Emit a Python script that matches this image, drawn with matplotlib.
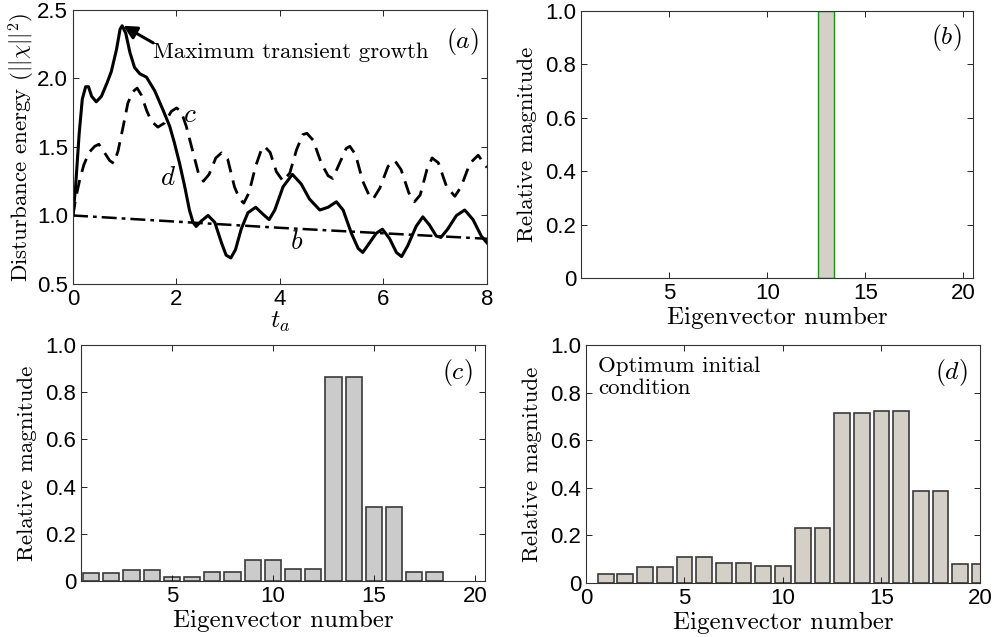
import matplotlib
matplotlib.use('Agg')
import matplotlib.pyplot as plt
import numpy as np

plt.rcParams['mathtext.fontset'] = 'cm'
plt.rcParams['font.family'] = 'Liberation Sans'

# (a) energy curves
t_d = [0, 0.05, 0.12, 0.18, 0.245, 0.30, 0.36, 0.45, 0.55, 0.66, 0.74, 0.84, 0.91, 0.95,
       1.02, 1.10, 1.19, 1.29, 1.42, 1.58, 1.74, 1.87, 1.96, 2.06, 2.16, 2.25, 2.32, 2.38,
       2.48, 2.61, 2.74, 2.87, 2.96, 3.05, 3.14, 3.25, 3.38, 3.53, 3.67, 3.79, 3.90, 4.06,
       4.24, 4.41, 4.57, 4.77, 4.93, 5.09, 5.22, 5.38, 5.51, 5.60, 5.73, 5.86, 5.98, 6.12,
       6.25, 6.35, 6.47, 6.63, 6.76, 6.89, 7.02, 7.11, 7.24, 7.41, 7.57, 7.73, 7.89, 8.0]
e_d = [1.0, 1.21, 1.60, 1.85, 1.94, 1.94, 1.87, 1.83, 1.87, 1.97, 2.05, 2.21, 2.36, 2.385,
       2.33, 2.19, 2.08, 2.035, 2.01, 1.91, 1.77, 1.65, 1.53, 1.38, 1.21, 1.04, 0.95, 0.92,
       0.96, 1.0, 0.95, 0.80, 0.71, 0.69, 0.75, 0.90, 1.02, 1.06, 1.01, 0.97, 1.04, 1.21,
       1.30, 1.23, 1.12, 1.04, 1.06, 1.10, 1.04, 0.87, 0.76, 0.73, 0.80, 0.87, 0.90, 0.83,
       0.73, 0.70, 0.78, 0.92, 0.99, 0.93, 0.85, 0.84, 0.90, 1.0, 1.04, 0.97, 0.85, 0.80]

t_c = [0, 0.05, 0.13, 0.21, 0.31, 0.42, 0.50, 0.59, 0.71, 0.79, 0.87, 0.97, 1.06, 1.16,
       1.24, 1.32, 1.42, 1.51, 1.64, 1.77, 1.90, 2.0, 2.09, 2.19, 2.32, 2.43, 2.52, 2.63,
       2.76, 2.87, 2.99, 3.12, 3.22, 3.30, 3.40, 3.53, 3.64, 3.70, 3.81, 3.93, 4.06, 4.19,
       4.32, 4.44, 4.52, 4.64, 4.80, 4.93, 5.02, 5.15, 5.28, 5.35, 5.46, 5.60, 5.73, 5.80,
       5.93, 6.09, 6.22, 6.34, 6.49, 6.60, 6.71, 6.84, 6.94, 7.06, 7.22, 7.38, 7.50, 7.67,
       7.83, 8.0]
e_c = [1.0, 1.12, 1.26, 1.37, 1.46, 1.505, 1.52, 1.47, 1.40, 1.38, 1.47, 1.65, 1.82, 1.905,
       1.93, 1.88, 1.77, 1.69, 1.645, 1.675, 1.76, 1.785, 1.76, 1.65, 1.46, 1.30, 1.25, 1.30,
       1.42, 1.457, 1.41, 1.21, 1.12, 1.09, 1.165, 1.36, 1.48, 1.505, 1.46, 1.32, 1.25, 1.31,
       1.48, 1.59, 1.60, 1.55, 1.38, 1.29, 1.27, 1.38, 1.49, 1.505, 1.445, 1.25, 1.14, 1.12,
       1.20, 1.36, 1.40, 1.335, 1.165, 1.10, 1.15, 1.335, 1.42, 1.385, 1.21, 1.14, 1.21, 1.38,
       1.44, 1.35]

t_b = [0, 2, 4, 6, 8]
e_b = [1.0, 0.955, 0.91, 0.87, 0.83]

# (b)-(d) eigenvector magnitudes
eig = np.arange(1, 21)
mag_b = [0, 0, 0, 0, 0, 0, 0, 0, 0, 0, 0, 0, 1.0, 0, 0, 0, 0, 0, 0, 0]
mag_c = [0.032, 0.032, 0.045, 0.045, 0.016, 0.016, 0.037, 0.037, 0.089, 0.089,
         0.052, 0.052, 0.864, 0.864, 0.314, 0.314, 0.037, 0.037, 0, 0]
mag_d = [0.038, 0.038, 0.066, 0.066, 0.108, 0.108, 0.084, 0.084, 0.073, 0.073,
         0.229, 0.229, 0.713, 0.713, 0.724, 0.724, 0.385, 0.385, 0.081, 0.081]

mag_ticks = [0, 0.2, 0.4, 0.6, 0.8, 1.0]
mag_labels = ['0', '0.2', '0.4', '0.6', '0.8', '1.0']

fig = plt.figure(figsize=(9.93, 6.37), dpi=100)
ax_a = fig.add_axes([0.0735, 0.5542, 0.4169, 0.4301])
ax_b = fig.add_axes([0.5851, 0.5636, 0.3948, 0.4191])
ax_c = fig.add_axes([0.0816, 0.0879, 0.4068, 0.3705])
ax_d = fig.add_axes([0.5901, 0.0848, 0.3968, 0.3736])

serif = 'cmr10'
tick_fs = 16
lab_fs = 16.5

for ax in (ax_a, ax_b, ax_c, ax_d):
    ax.tick_params(direction='in', top=True, right=True, labelsize=tick_fs, length=4, width=0.6)
    for s in ax.spines.values():
        s.set_linewidth(0.8)
        s.set_color('#333333')

# (a)
ax_a.plot(t_d, e_d, color='black', lw=2.2)
ax_a.plot(t_c, e_c, color='black', lw=2.0, ls=(0, (5, 3)))
ax_a.plot(t_b, e_b, color='black', lw=1.8, ls=(0, (6, 2, 1.5, 2)))
ax_a.set_xlim(0, 8)
ax_a.set_ylim(0.5, 2.5)
ax_a.set_xticks([0, 2, 4, 6, 8])
ax_a.set_yticks([0.5, 1.0, 1.5, 2.0, 2.5])
ax_a.set_yticklabels(['0.5', '1.0', '1.5', '2.0', '2.5'])
ax_a.set_xlabel(r'$t_a$', fontsize=lab_fs + 2, labelpad=0)
ax_a.set_ylabel(r'Disturbance energy $(||\chi||^2)$', fontsize=lab_fs, family=serif, labelpad=0)
ax_a.annotate('', xy=(0.97, 2.385), xytext=(1.55, 2.26),
              arrowprops=dict(arrowstyle='-|>', color='black', lw=2.2,
                              mutation_scale=20, shrinkA=0, shrinkB=0))
ax_a.text(1.55, 2.19, 'Maximum transient growth', fontsize=16.5, family=serif,
          va='center', ha='left')
ax_a.text(2.26, 1.73, r'$c$', fontsize=lab_fs + 3, ha='center', va='center')
ax_a.text(1.84, 1.27, r'$d$', fontsize=lab_fs + 3, ha='center', va='center')
ax_a.text(4.33, 0.81, r'$b$', fontsize=lab_fs + 3, ha='center', va='center')
ax_a.text(0.98, 0.94, r'$(a)$', transform=ax_a.transAxes, fontsize=lab_fs + 2, ha='right', va='top')


def bar_panel(ax, vals, face, edge, lw, xlim):
    edges = [edge if v > 0 else 'none' for v in vals]
    ax.bar(eig, vals, width=0.8, color=face, edgecolor=edges, linewidth=lw)
    ax.set_xlim(*xlim)
    ax.set_ylim(0, 1)
    ax.set_yticks(mag_ticks)
    ax.set_yticklabels(mag_labels)
    ax.set_xlabel('Eigenvector number', fontsize=18, family=serif, labelpad=2)
    ax.set_ylabel('Relative magnitude', fontsize=lab_fs, family=serif, labelpad=6)


bar_panel(ax_b, mag_b, '#d4d0c8', '#1a8f1a', 1.0, (0.5, 20.5))
ax_b.set_xticks([5, 10, 15, 20])
ax_b.text(0.97, 0.96, r'$(b)$', transform=ax_b.transAxes, fontsize=lab_fs + 2, ha='right', va='top')

bar_panel(ax_c, mag_c, '#cbcbcb', '#3a3a3a', 1.2, (0.5, 20.5))
ax_c.set_xticks([5, 10, 15, 20])
ax_c.text(0.97, 0.95, r'$(c)$', transform=ax_c.transAxes, fontsize=lab_fs + 2, ha='right', va='top')

bar_panel(ax_d, mag_d, '#d4d0c8', '#3a3a3a', 1.2, (0, 20))
ax_d.set_xticks([0, 5, 10, 15, 20])
ax_d.text(0.97, 0.95, r'$(d)$', transform=ax_d.transAxes, fontsize=lab_fs + 2, ha='right', va='top')
ax_d.text(0.03, 0.95, 'Optimum initial\ncondition', transform=ax_d.transAxes,
          fontsize=16.5, family=serif, ha='left', va='top', linespacing=1.15)

fig.savefig('out.png', dpi=100)
